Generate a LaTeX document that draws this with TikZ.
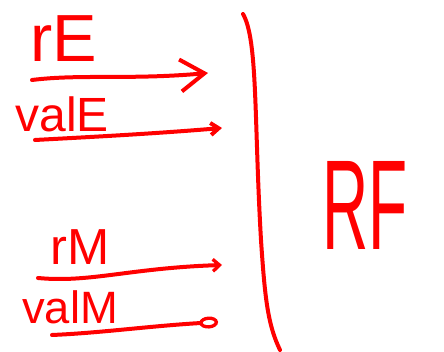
\documentclass[tikz,border=0pt]{standalone}
\usepackage{fontspec}
\setmainfont{Liberation Sans}
\usepackage{tikz}
\usetikzlibrary{arrows.meta, positioning}

\begin{document}
\begin{tikzpicture}[
    x=0.75pt, y=-0.75pt,
    sig/.style={text=red, inner sep=0pt, anchor=base},
    wire/.style={draw=red, line width=3pt, line cap=round, line join=round},
    bar/.style={draw=red, line width=3pt, line cap=round}
]
\useasboundingbox (0,0) rectangle (444,352);

% port labels
\node[sig, font=\fontsize{50}{50}\selectfont] (rE) at (64,62) {rE};
\node[sig, font=\fontsize{36}{36}\selectfont] (valE) at (62,132) {valE};
\node[sig, font=\fontsize{38}{38}\selectfont] (rM) at (80,265) {rM};
\node[sig, font=\fontsize{34}{34}\selectfont] (valM) at (70,324) {valM};
\node[sig, font=\fontsize{96}{96}\selectfont, xscale=0.5, transform shape] (rf) at (365,250) {RF};

% wire ends
\coordinate (rEa) at (32,80);   \coordinate (rEb) at (208,73);
\coordinate (valEa) at (35,140); \coordinate (valEb) at (222,128);
\coordinate (rMa) at (38,278);  \coordinate (rMb) at (222,265);
\coordinate (valMa) at (52,335); \coordinate (valMb) at (218,322);

% register file edge
\draw[bar] (243,14) .. controls (258,40) and (254,120) .. (261,240)
    .. controls (265,300) and (268,325) .. (280,350);

\draw[wire, -{Straight Barb[length=18pt, width=24pt, line width=3pt]}]
    (rEa) .. controls (80,74) and (130,80) .. (rEb);
\draw[wire, -{Straight Barb[length=6pt, width=9pt, line width=3pt]}]
    (valEa) .. controls (90,137) and (150,134) .. (valEb);
\draw[wire, -{Straight Barb[length=5pt, width=9pt, line width=2.5pt]}]
    (rMa) .. controls (90,283) and (130,268) .. (rMb);
\draw[wire, -{Circle[open, length=14pt, width=9pt, line width=2.5pt]}]
    (valMa) .. controls (100,333) and (150,326) .. (valMb);

\end{tikzpicture}
\end{document}
